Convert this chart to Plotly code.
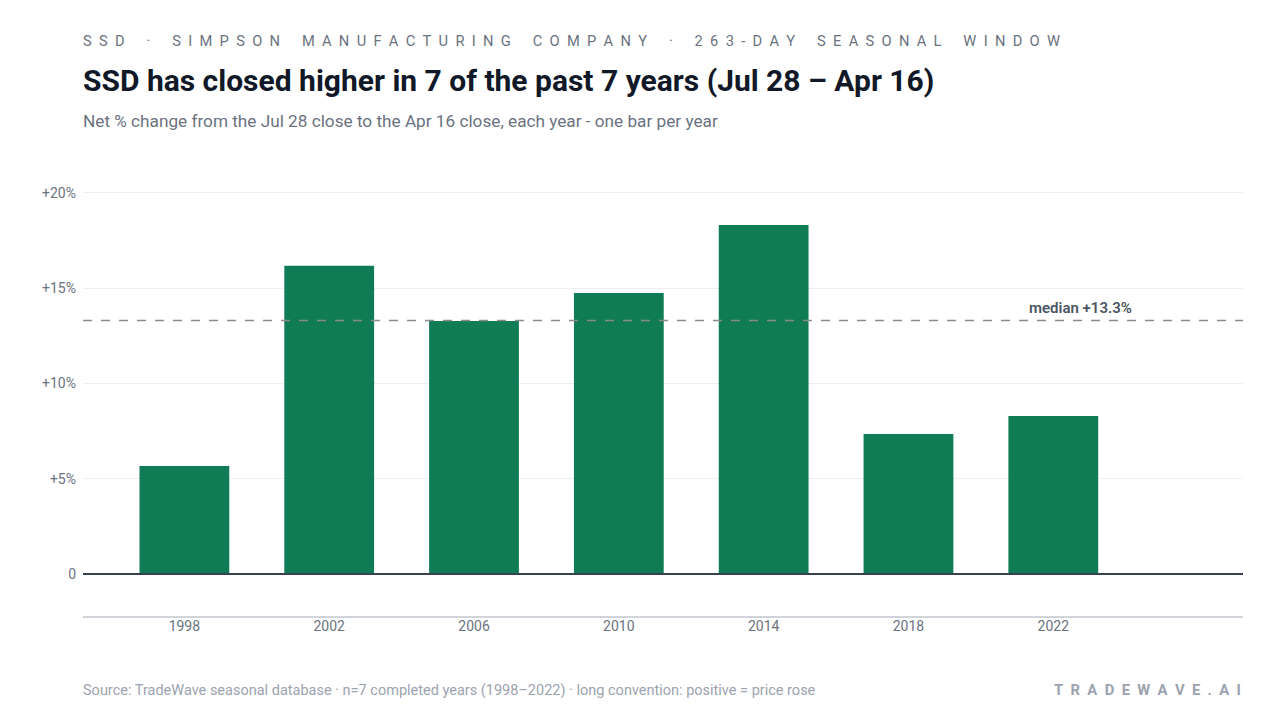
import plotly.graph_objects as go

years = ["1998", "2002", "2006", "2010", "2014", "2018", "2022"]
changes = [5.67, 16.17, 13.28, 14.75, 18.32, 7.35, 8.29]
median_val = 13.3
y_ticks = [0, 5, 10, 15, 20]
y_tick_labels = ["0", "+5%", "+10%", "+15%", "+20%"]

W, H = 1280, 720
ML, MR, MT, MB = 83, 37, 170, 104
PH = H - MT - MB

def py(pixel_y):
    return (H - MB - pixel_y) / PH

def px(pixel_x):
    return (pixel_x - ML) / (W - ML - MR)

def spaced(s, gap="\u00a0\u00a0", word_gap="\u00a0\u00a0\u00a0\u00a0"):
    out = []
    for ch in s:
        if ch == " ":
            out.append(word_gap)
        else:
            out.append(ch + gap)
    return "".join(out).rstrip("\u00a0")

fig = go.Figure()
fig.add_trace(go.Bar(
    x=years, y=changes,
    marker=dict(color="#107c56", line=dict(width=0)),
    hoverinfo="skip",
))

fig.add_shape(type="line", xref="paper", yref="y", x0=0, x1=1,
              y0=median_val, y1=median_val,
              line=dict(color="#8a8a8a", width=1.5, dash="dash"))
fig.add_shape(type="line", xref="paper", yref="y", x0=0, x1=1, y0=0, y1=0,
              line=dict(color="#374151", width=2))

fig.add_annotation(x=px(1080), xref="paper", y=median_val, yref="y",
                   text="median +13.3%", showarrow=False, yshift=13,
                   xanchor="center", yanchor="middle",
                   font=dict(family="Roboto", size=15, color="#4b5563", weight=600))

left_kw = dict(xref="paper", yref="paper", showarrow=False,
               xanchor="left", yanchor="middle", xshift=-2)
fig.add_annotation(x=0, y=py(41),
                   text=spaced("SSD · SIMPSON MANUFACTURING COMPANY · 263-DAY SEASONAL WINDOW"),
                   font=dict(family="Roboto", size=14.7, color="#6b7280"), **left_kw)
fig.add_annotation(x=0, y=py(81),
                   text="<b>SSD has closed higher in 7 of the past 7 years (Jul 28 – Apr 16)</b>",
                   font=dict(family="Roboto", size=30, color="#111827"), **left_kw)
fig.add_annotation(x=0, y=py(121),
                   text="Net % change from the Jul 28 close to the Apr 16 close, each year - one bar per year",
                   font=dict(family="Roboto", size=17.2, color="#6b7280"), **left_kw)
fig.add_annotation(x=0, y=py(690),
                   text="Source: TradeWave seasonal database · n=7 completed years (1998–2022) · long convention: positive = price rose",
                   font=dict(family="Roboto", size=14.5, color="#9ca3af"), **left_kw)
fig.add_annotation(x=1, xref="paper", y=py(690), yref="paper",
                   text="<b>" + spaced("TRADEWAVE.AI") + "</b>",
                   showarrow=False, xanchor="right", yanchor="middle",
                   font=dict(family="Roboto", size=14.8, color="#9ca3af"))

fig.update_layout(
    width=W, height=H,
    margin=dict(l=ML, r=MR, t=MT, b=MB),
    paper_bgcolor="white", plot_bgcolor="white",
    showlegend=False,
    bargap=0.38,
    font=dict(family="Roboto", color="#6b7280"),
    xaxis=dict(type="category", range=[-0.7, 7.31], showgrid=False,
               showline=True, linecolor="#d1d5db", linewidth=1.5,
               ticks="", tickfont=dict(size=14, color="#6b7280"),
               ticklabelstandoff=-4,
               fixedrange=True),
    yaxis=dict(range=[-2.2, 21.2], tickvals=y_ticks, ticktext=y_tick_labels,
               showgrid=True, gridcolor="#eceef1", gridwidth=1,
               zeroline=False, showline=False, ticks="",
               ticklabelstandoff=6,
               tickfont=dict(size=14, color="#6b7280"), fixedrange=True),
)

fig.write_html("out.html", config={"displayModeBar": False})
